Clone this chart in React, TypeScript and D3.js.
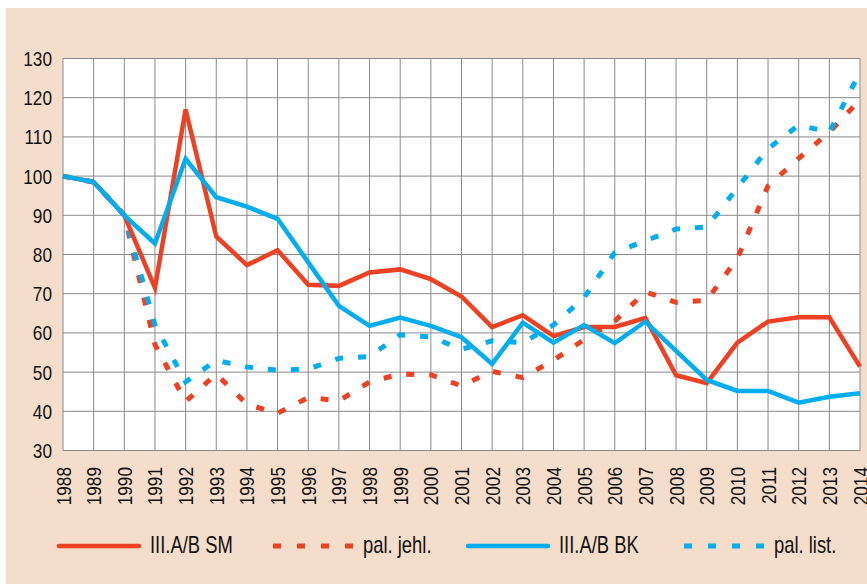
import React from "react";
import * as d3 from "d3";

// Years on the x axis
const years = [
  1988, 1989, 1990, 1991, 1992, 1993, 1994, 1995, 1996, 1997, 1998, 1999, 2000,
  2001, 2002, 2003, 2004, 2005, 2006, 2007, 2008, 2009, 2010, 2011, 2012, 2013, 2014,
];

// III.A/B SM (solid red)
const smValues = [
  100, 98.5, 90, 71.5, 117, 84.6, 77.3, 81.1, 72.3, 72, 75.4, 76.2, 73.7, 69.3,
  61.5, 64.5, 59.2, 61.5, 61.5, 63.8, 49.2, 47.2, 57.5, 62.9, 64, 64, 51.4,
];

// pal. jehl. (dashed red)
const jehlValues = [
  100, 98.5, 90, 57, 42.5, 49.5, 41.8, 39.5, 43.5, 42.7, 47.5, 49.5, 49.3, 46.5,
  50.2, 48.6, 53, 58.3, 63, 70.5, 67.8, 68.3, 79, 97.5, 104.5, 111.2, 119.5,
];

// III.A/B BK (solid blue)
const bkValues = [
  100, 98.5, 90, 82.8, 104.4, 94.6, 92.2, 89.1, 78, 66.9, 61.8, 63.9, 61.8, 58.9,
  52.1, 62.6, 57.5, 62, 57.4, 62.9, 55.4, 48, 45.2, 45.2, 42.2, 43.7, 44.6,
];

// pal. list. (dashed blue)
const listValues = [
  100, 98.5, 90, 62, 47.5, 53, 51.3, 50.5, 50.8, 53.5, 54, 59.5, 59, 55.8, 58,
  57.5, 62, 69, 80.5, 83.5, 86.5, 87, 97, 107, 113, 111.2, 126.5,
];

const yTicks = [30, 40, 50, 60, 70, 80, 90, 100, 110, 120, 130];

const RED = "#ee4124";
const BLUE = "#00adee";
const PEACH = "#f5ddcb";
const FONT = "'Liberation Sans', Arial, sans-serif";
// the original uses a condensed face; squeeze the regular one horizontally
const SQUEEZE = 0.82;

const series = [
  { name: "pal. jehl.", values: jehlValues, color: RED, dashed: true },
  { name: "pal. list.", values: listValues, color: BLUE, dashed: true },
  { name: "III.A/B SM", values: smValues, color: RED, dashed: false },
  { name: "III.A/B BK", values: bkValues, color: BLUE, dashed: false },
];

const legendItems = [
  { name: "III.A/B SM", color: RED, dashed: false, x: 59 },
  { name: "pal. jehl.", color: RED, dashed: true, x: 273 },
  { name: "III.A/B BK", color: BLUE, dashed: false, x: 468 },
  { name: "pal. list.", color: BLUE, dashed: true, x: 684 },
];

export default function App() {
  const width = 867;
  const height = 585;

  const x = d3.scaleLinear().domain([1988, 2014]).range([63, 860]);
  const y = d3.scaleLinear().domain([30, 130]).range([450.5, 58.5]);

  const line = d3
    .line<number>()
    .x((_, i) => x(years[i]))
    .y((d) => y(d));

  return (
    <svg
      width={width}
      height={height}
      style={{ position: "absolute", left: 0, top: 0, fontFamily: FONT }}
    >
      <rect x={0} y={0} width={width} height={height} fill="#fff" />
      <rect x={6} y={8} width={861} height={576} fill={PEACH} />

      {/* plot area */}
      <rect x={x(1988)} y={y(130)} width={x(2014) - x(1988)} height={y(30) - y(130)} fill="#fff" />

      {/* grid */}
      <g stroke="#8a8a8a" strokeWidth={1}>
        {years.map((yr) => (
          <line key={"v" + yr} x1={x(yr)} x2={x(yr)} y1={y(130)} y2={y(30)} />
        ))}
        {yTicks.map((t) => (
          <line key={"h" + t} x1={x(1988)} x2={x(2014)} y1={y(t)} y2={y(t)} />
        ))}
      </g>

      {/* y tick labels */}
      {yTicks.map((t) => (
        <text
          key={"yl" + t}
          transform={`translate(52,${y(t)}) scale(${SQUEEZE},1)`}
          dy="0.36em"
          textAnchor="end"
          fontSize={21}
          fill="#111"
        >
          {t}
        </text>
      ))}

      {/* x tick labels */}
      {years.map((yr) => (
        <text
          key={"xl" + yr}
          transform={`translate(${x(yr) + 7.5},467) rotate(-90) scale(${SQUEEZE},1)`}
          textAnchor="end"
          fontSize={21}
          fill="#111"
        >
          {yr}
        </text>
      ))}

      {/* lines */}
      <g fill="none">
        {series.map((s) => (
          <path
            key={s.name}
            d={line(s.values) || ""}
            stroke={s.color}
            strokeWidth={s.dashed ? 5 : 4.5}
            strokeDasharray={s.dashed ? "8,15" : undefined}
            strokeLinejoin="miter"
          />
        ))}
      </g>

      {/* legend */}
      {legendItems.map((it) => (
        <g key={it.name}>
          {it.dashed ? (
            <line
              x1={it.x}
              x2={it.x + 82}
              y1={546}
              y2={546}
              stroke={it.color}
              strokeWidth={5}
              strokeDasharray="8,16"
            />
          ) : (
            <line
              x1={it.x}
              x2={it.x + 80}
              y1={546}
              y2={546}
              stroke={it.color}
              strokeWidth={4.5}
              strokeLinecap="round"
            />
          )}
          <text
            transform={`translate(${it.x + (it.dashed ? 90 : 91)},553) scale(0.8,1)`}
            fontSize={23}
            fill="#111"
          >
            {it.name}
          </text>
        </g>
      ))}
    </svg>
  );
}
